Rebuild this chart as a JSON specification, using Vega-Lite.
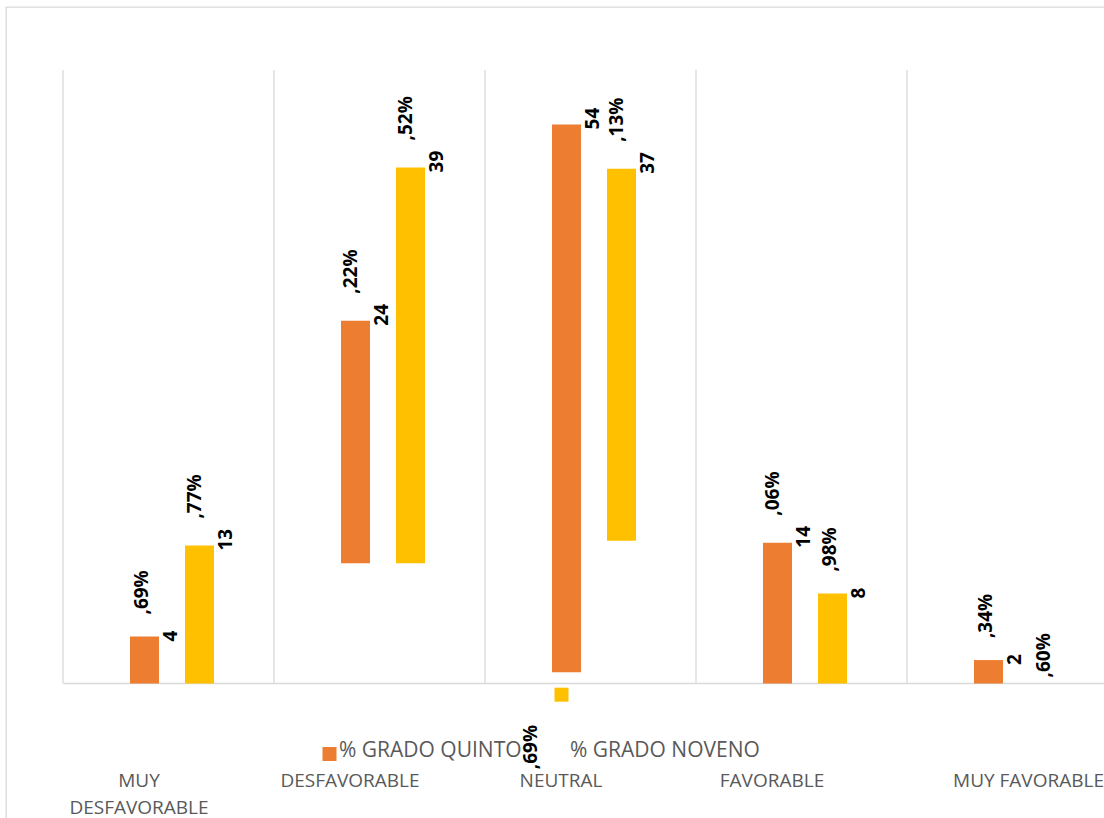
{
  "$schema": "https://vega.github.io/schema/vega-lite/v6.json",
  "autosize": "none",
  "width": 1100,
  "height": 813,
  "padding": {"left": 6, "top": 7, "right": -2, "bottom": -2},
  "background": "white",
  "data": {
    "values": [
      {"categoria": "MUY DESFAVORABLE", "serie": "% GRADO QUINTO", "valor": 4.69, "inicio": 0},
      {"categoria": "MUY DESFAVORABLE", "serie": "% GRADO NOVENO", "valor": 13.77, "inicio": 0},
      {"categoria": "DESFAVORABLE", "serie": "% GRADO QUINTO", "valor": 24.22, "inicio": 12.0},
      {"categoria": "DESFAVORABLE", "serie": "% GRADO NOVENO", "valor": 39.52, "inicio": 12.0},
      {"categoria": "NEUTRAL", "serie": "% GRADO QUINTO", "valor": 54.69, "inicio": 1.13},
      {"categoria": "NEUTRAL", "serie": "% GRADO NOVENO", "valor": 37.13, "inicio": 14.25},
      {"categoria": "FAVORABLE", "serie": "% GRADO QUINTO", "valor": 14.06, "inicio": 0},
      {"categoria": "FAVORABLE", "serie": "% GRADO NOVENO", "valor": 8.98, "inicio": 0},
      {"categoria": "MUY FAVORABLE", "serie": "% GRADO QUINTO", "valor": 2.34, "inicio": 0},
      {"categoria": "MUY FAVORABLE", "serie": "% GRADO NOVENO", "valor": 0.60, "inicio": null}
    ]
  },
  "transform": [
    {"calculate": "datum.inicio + datum.valor", "as": "fin"},
    {"calculate": "toString(floor(datum.valor))", "as": "entero"},
    {"calculate": "',' + slice(format(datum.valor, '.2f'), -2) + '%'", "as": "fraccion"}
  ],
  "encoding": {
    "x": {
      "field": "categoria",
      "type": "nominal",
      "sort": ["MUY DESFAVORABLE", "DESFAVORABLE", "NEUTRAL", "FAVORABLE", "MUY FAVORABLE"],
      "scale": {"range": [57, 1112], "paddingInner": 0, "paddingOuter": 0},
      "axis": {
        "title": null,
        "orient": "bottom",
        "offset": -137,
        "domainColor": "#d9d9d9",
        "domainWidth": 1.3,
        "ticks": false,
        "tickSize": 0,
        "grid": false,
        "labelAngle": 0,
        "labelFont": "Open Sans",
        "labelFontSize": 19,
        "labelColor": "#595959",
        "labelPadding": 88,
        "labelLineHeight": 27,
        "labelFlush": false,
        "labelOverlap": false,
        "labelBound": false,
        "labelLimit": 0,
        "labelOffset": {"expr": "datum.value == 'MUY FAVORABLE' ? 16 : -29.5"},
        "labelExpr": "datum.value == 'MUY DESFAVORABLE' ? ['MUY', 'DESFAVORABLE'] : datum.value"
      }
    },
    "y": {
      "field": "fin",
      "type": "quantitative",
      "scale": {"domain": [0, 61.25], "range": [676.5, 63], "nice": false, "zero": false},
      "axis": null
    }
  },
  "layer": [
    {
      "transform": [{"filter": "datum.serie == '% GRADO QUINTO'"}],
      "mark": {"type": "rule", "color": "#d9d9d9", "strokeWidth": 1.3},
      "encoding": {
        "x": {"field": "categoria", "type": "nominal", "bandPosition": 0},
        "y": {"datum": 61.25},
        "y2": {"datum": 0}
      }
    },
    {
      "transform": [{"filter": "datum.serie == '% GRADO QUINTO'"}],
      "mark": {"type": "bar", "width": 29},
      "encoding": {
        "xOffset": {"field": "serie", "type": "nominal", "scale": {"domain": ["% GRADO QUINTO", "% GRADO NOVENO"], "paddingInner": 0, "paddingOuter": 0.9182, "align": 0.5347}},
        "y": {"field": "inicio", "type": "quantitative"},
        "y2": {"field": "fin"},
        "color": {
          "field": "serie",
          "type": "nominal",
          "scale": {"domain": ["% GRADO QUINTO"], "range": ["#ED7D31"]},
          "legend": {
            "title": null,
            "orient": "none",
            "legendX": 313,
            "legendY": 736.5,
            "padding": 0,
            "symbolType": "square",
            "symbolSize": 196,
            "symbolStrokeWidth": 0,
            "labelOffset": -1,
            "labelFont": "Open Sans",
            "labelFontSize": 21,
            "labelColor": "#595959",
            "labelLimit": 0,
            "encode": {"labels": {"update": {"dy": {"value": -3}}}}
          }
        }
      }
    },
    {
      "transform": [{"filter": "datum.serie == '% GRADO NOVENO'"}],
      "mark": {"type": "bar", "width": 29},
      "encoding": {
        "xOffset": {"field": "serie", "type": "nominal", "scale": {"domain": ["% GRADO QUINTO", "% GRADO NOVENO"], "paddingInner": 0, "paddingOuter": 0.9182, "align": 0.5347}},
        "y": {"field": "inicio", "type": "quantitative"},
        "y2": {"field": "fin"},
        "color": {
          "field": "serie",
          "type": "nominal",
          "scale": {"domain": ["% GRADO NOVENO"], "range": ["#FFC000"]},
          "legend": {
            "title": null,
            "orient": "none",
            "legendX": 545,
            "legendY": 677.2,
            "padding": 0,
            "symbolType": "square",
            "symbolSize": 196,
            "symbolStrokeWidth": 0,
            "labelOffset": -2,
            "labelFont": "Open Sans",
            "labelFontSize": 21,
            "labelColor": "#595959",
            "labelLimit": 0,
            "encode": {"labels": {"update": {"dy": {"value": 56.5}}}}
          }
        }
      }
    },
    {
      "transform": [{"filter": "datum.inicio != null"}],
      "mark": {"type": "text", "angle": 270, "align": "left", "baseline": "middle", "dx": -5, "dy": 26.5, "fontSize": 19, "fontWeight": "bold", "color": "#000000"},
      "encoding": {"xOffset": {"field": "serie", "type": "nominal"}, "text": {"field": "entero"}}
    },
    {
      "transform": [{"filter": "datum.inicio != null && datum.fin <= 55 && length(datum.entero) == 1"}],
      "mark": {"type": "text", "angle": 270, "align": "left", "baseline": "middle", "dx": 22, "dy": -3, "fontSize": 19, "fontWeight": "bold", "color": "#000000"},
      "encoding": {"xOffset": {"field": "serie", "type": "nominal"}, "text": {"field": "fraccion"}}
    },
    {
      "transform": [{"filter": "datum.inicio != null && datum.fin <= 55 && length(datum.entero) == 2"}],
      "mark": {"type": "text", "angle": 270, "align": "left", "baseline": "middle", "dx": 27, "dy": -5, "fontSize": 19, "fontWeight": "bold", "color": "#000000"},
      "encoding": {"xOffset": {"field": "serie", "type": "nominal"}, "text": {"field": "fraccion"}}
    },
    {
      "transform": [{"filter": "datum.inicio == null"}],
      "mark": {"type": "text", "angle": 270, "align": "left", "baseline": "middle", "dx": 0, "dy": 0.5, "fontSize": 19, "fontWeight": "bold", "color": "#000000"},
      "encoding": {"xOffset": {"field": "serie", "type": "nominal"}, "text": {"field": "fraccion"}}
    },
    {
      "transform": [{"filter": "datum.fin > 55"}],
      "mark": {"type": "text", "angle": 270, "align": "left", "baseline": "middle", "dx": -97, "dy": -36, "fontSize": 19, "fontWeight": "bold", "color": "#000000"},
      "encoding": {
        "xOffset": {"field": "serie", "type": "nominal"},
        "y": {"field": "inicio", "type": "quantitative"},
        "text": {"field": "fraccion"}
      }
    }
  ],
  "resolve": {
    "scale": {"color": "independent", "xOffset": "shared"},
    "legend": {"color": "independent"}
  },
  "config": {
    "font": "Open Sans",
    "view": {"stroke": "#d9d9d9", "strokeWidth": 1.3}
  }
}
